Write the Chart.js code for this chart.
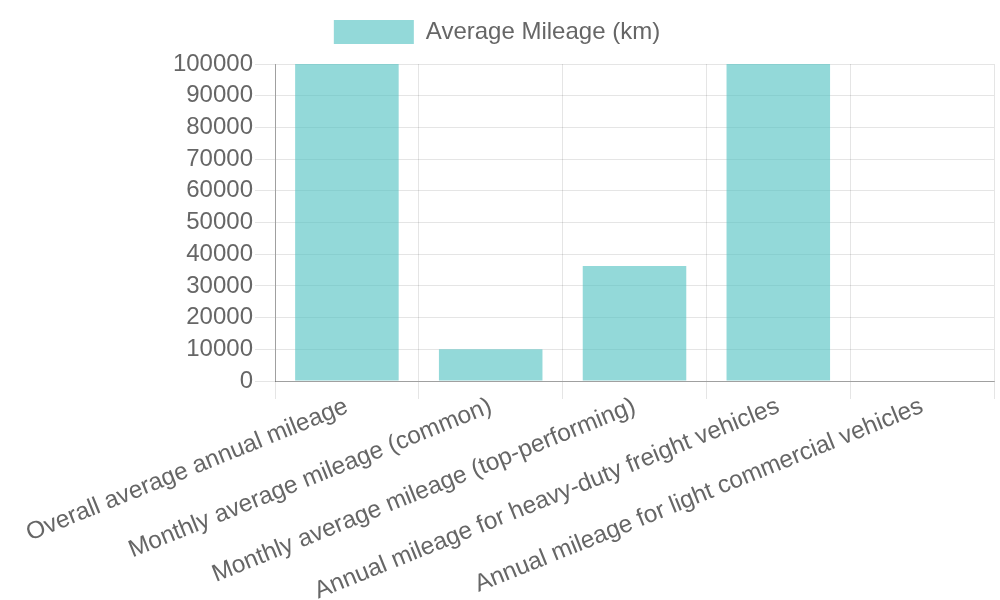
<!DOCTYPE html>
<html>
<head>
<meta charset="utf-8">
<script src="https://cdn.jsdelivr.net/npm/chart.js@4"></script>
<style>
  html, body { margin: 0; padding: 0; background: #fff; }
  #wrap { width: 1000px; height: 600px; }
</style>
</head>
<body>
<div id="wrap"><canvas id="chart1"></canvas></div>
<script>
const categories = [
	"Overall average annual mileage",
	"Monthly average mileage (common)",
	"Monthly average mileage (top-performing)",
	"Annual mileage for heavy-duty freight vehicles",
	"Annual mileage for light commercial vehicles"
];
const mileage = [120000, 10000, 36300, 130000, 0];
const yTicks = [0, 10000, 20000, 30000, 40000, 50000, 60000, 70000, 80000, 90000, 100000];

Chart.defaults.font.family = "'Liberation Sans', Arial, sans-serif";
Chart.defaults.font.size = 24;
Chart.defaults.color = "#666";

// a bit more room under the legend
const legendGap = {
	id: "legendGap",
	beforeInit(chart) {
		const fit = chart.legend.fit;
		chart.legend.fit = function() {
			fit.bind(chart.legend)();
			this.height += 10;
		};
	}
};

const chart1 = new Chart("chart1", {
	type: "bar",
	data: {
		labels: categories,
		datasets: [{
			label: "Average Mileage (km)",
			backgroundColor: "rgba(75, 192, 192, 0.6)",
			borderWidth: 0,
			data: mileage
		}]
	},
	plugins: [legendGap],
	options: {
		responsive: true,
		maintainAspectRatio: false,
		animation: false,
		layout: { padding: { top: 10, left: 0, right: 6, bottom: 0 } },
		plugins: {
			legend: {
				labels: { boxWidth: 80, boxHeight: 24, padding: 10 }
			},
			tooltip: { enabled: false }
		},
		scales: {
			x: {
				grid: { color: "rgba(0,0,0,0.1)", tickLength: 18 },
				border: { color: "rgba(0,0,0,0.3)" },
				ticks: { minRotation: 22, maxRotation: 22, padding: -7, font: { size: 24.4 } },
				afterFit(axis) { axis.height = 219; }
			},
			y: {
				min: 0,
				max: 100000,
				afterBuildTicks: (axis) => { axis.ticks = yTicks.map(v => ({ value: v })); },
				afterFit(axis) { axis.width = 275; },
				grid: { color: "rgba(0,0,0,0.1)", tickLength: 20 },
				border: { color: "rgba(0,0,0,0.3)" },
				ticks: { padding: 2, autoSkip: false, callback: (v) => String(v) }
			}
		}
	}
});
</script>
</body>
</html>
